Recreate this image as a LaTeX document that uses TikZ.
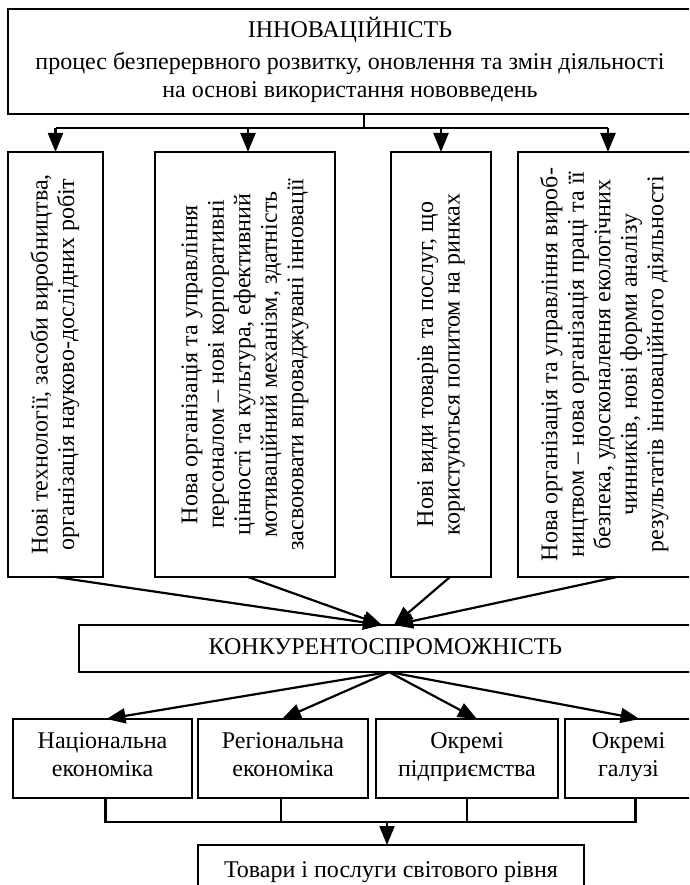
\documentclass[tikz,border=0pt]{standalone}
\usepackage{fontspec}
\setmainfont{Liberation Serif}
\usetikzlibrary{arrows.meta,calc}
\newcommand{\vtext}[1]{\rotatebox{90}{\begin{tabular}{@{}c@{}}#1\end{tabular}}}
\begin{document}
\begin{tikzpicture}[x=1pt,y=-1pt,
  box/.style={draw, line width=2.2pt, inner sep=0pt, outer sep=0pt, anchor=north west, align=center, font=\fontsize{24}{28}\selectfont,
    execute at begin node=\strut, execute at end node=\strut},
  vbox/.style={draw, line width=2.2pt, inner sep=0pt, outer sep=0pt, anchor=north west, align=center, font=\fontsize{24}{26.5}\selectfont},
  ln/.style={line width=2.2pt},
  arr/.style={line width=2.2pt, -{Triangle[width=15pt,length=19pt]}}]
\useasboundingbox (0,0) rectangle (689,885);
\clip (0,0) rectangle (689,885);
% top box
\node[box, minimum width=684pt, minimum height=105pt] (top) at (8,9)
  {ІННОВАЦІЙНІСТЬ\\[4pt]процес безперервного розвитку, оновлення та змін діяльності\\на основі використання нововведень};
% vertical boxes
\node[vbox, minimum width=95pt, minimum height=425pt] (b1) at (8,152)
  {\vtext{Нові технології, засоби виробництва,\\організація науково-дослідних робіт}};
\node[vbox, minimum width=180pt, minimum height=425pt] (b2) at (155,152)
  {\vtext{Нова організація та управління\\персоналом – нові корпоративні\\цінності та культура, ефективний\\мотиваційний механізм, здатність\\засвоювати впроваджувані інновації}};
\node[vbox, minimum width=100pt, minimum height=425pt] (b3) at (391,152)
  {\vtext{Нові види товарів та послуг, що\\користуються попитом на ринках}};
\node[vbox, minimum width=174pt, minimum height=425pt] (b4) at (518,152)
  {\vtext{Нова організація та управління вироб-\\ництвом – нова організація праці та її\\безпека, удосконалення екологічних\\чинників, нові форми аналізу\\результатів інноваційного діяльності}};
% competitiveness
\node[box, minimum width=613pt, minimum height=47pt] (k) at (79,625) {КОНКУРЕНТОСПРОМОЖНІСТЬ};
% bottom boxes
\node[box, minimum width=179pt, minimum height=79pt] (A) at (13,719) {Національна\\економіка};
\node[box, minimum width=170pt, minimum height=79pt] (B) at (198,719) {Регіональна\\економіка};
\node[box, minimum width=182pt, minimum height=79pt] (C) at (376,719) {Окремі\\підприємства};
\node[box, minimum width=127pt, minimum height=79pt] (D) at (565,719) {Окремі\\галузі};
\node[box, minimum width=386pt, minimum height=53pt] (F) at (198,845) {Товари і послуги світового рівня};
% top connector
\coordinate (hj) at (364,128);
\draw[ln] (top.south -| hj) -- (hj);
\draw[ln] (b1.north |- hj) -- ($(b4.north |- hj)+(3,0)$);
\draw[arr] (b1.north |- hj) -- (b1.north);
\draw[arr] ($(b2.north |- hj)+(3,0)$) -- ($(b2.north)+(3,0)$);
\draw[arr] (b3.north |- hj) -- (b3.north);
\draw[arr] ($(b4.north |- hj)+(3,0)$) -- ($(b4.north)+(3,0)$);
% converging arrows
\coordinate (kl) at ($(k.north west)+(303,0)$);
\coordinate (kr) at ($(k.north west)+(315,0)$);
\draw[arr] (b1.south) -- (kl);
\draw[arr] ($(b2.south)+(3,0)$) -- (kl);
\draw[arr] ($(b3.south)+(9,0)$) -- (kr);
\draw[arr] ($(b4.south)+(12,0)$) -- (kr);
% diverging arrows
\coordinate (ks) at ($(k.south west)+(310,0)$);
\draw[arr] (ks) -- ($(A.north)+(4,0)$);
\draw[arr] (ks) -- ($(B.north)+(-1,0)$);
\draw[arr] (ks) -- ($(C.north)+(10,0)$);
\draw[arr] (ks) -- ($(D.north)+(11,0)$);
% bottom connector
\coordinate (bj) at (387,822);
\draw[ln] ($(A.south)+(3,0)$) -- ($(A.south |- bj)+(3,0)$) -- ($(D.south |- bj)+(7,0)$) -- ($(D.south)+(7,0)$);
\draw[ln] ($(B.south)+(-2,0)$) -- ($(B.south |- bj)+(-2,0)$);
\draw[ln] (C.south) -- (C.south |- bj);
\draw[arr] (bj) -- (F.north -| bj);
\end{tikzpicture}
\end{document}
